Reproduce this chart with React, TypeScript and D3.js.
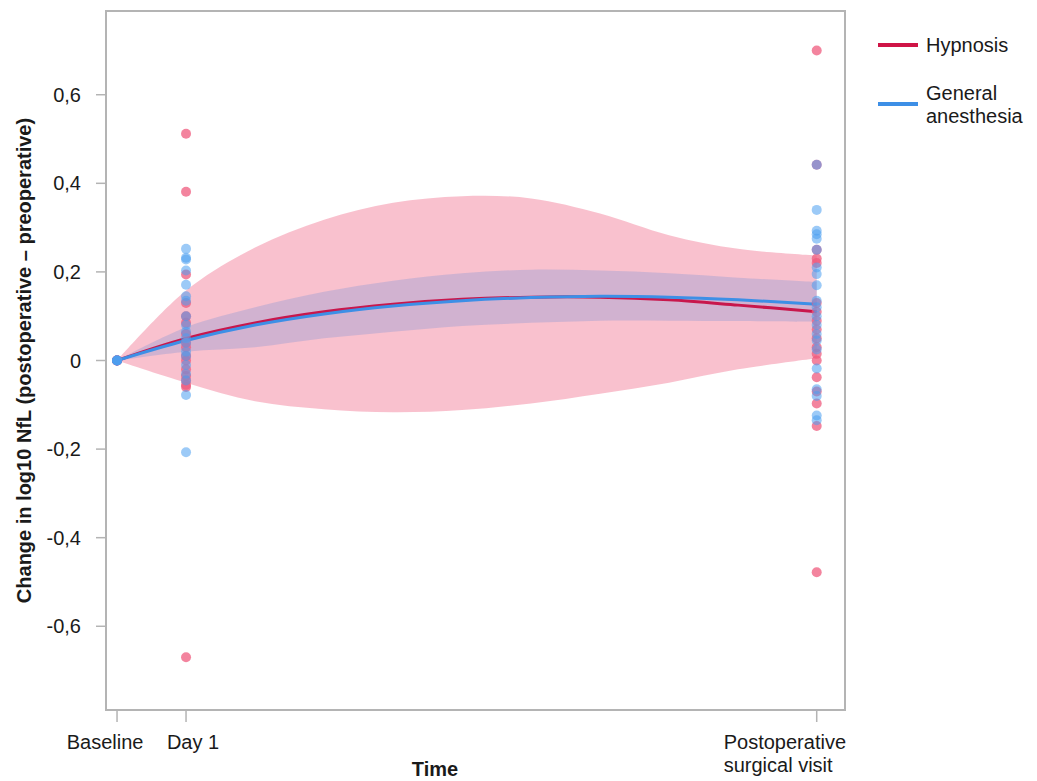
import { useEffect, useRef } from "react";
import * as d3 from "d3";

// time positions (days) of the three visits
const visits = [
  { label: ["Baseline"], t: 0 },
  { label: ["Day 1"], t: 1 },
  { label: ["Postoperative", "surgical visit"], t: 10.14 },
];

// times where the fitted curves and bands were read
const curveT = [0, 1, 2, 3, 4, 5, 6, 7, 8, 9, 10.14];
const hypFit = [0, 0.05, 0.085, 0.11, 0.127, 0.138, 0.143, 0.143, 0.137, 0.125, 0.11];
const hypLo = [0, -0.05, -0.092, -0.11, -0.117, -0.112, -0.097, -0.075, -0.05, -0.02, 0.005];
const hypHi = [0, 0.158, 0.255, 0.318, 0.356, 0.371, 0.366, 0.332, 0.283, 0.252, 0.237];
const gaFit = [0, 0.045, 0.08, 0.105, 0.123, 0.135, 0.142, 0.145, 0.143, 0.137, 0.127];
const gaLo = [0, 0.02, 0.03, 0.05, 0.065, 0.078, 0.085, 0.09, 0.09, 0.089, 0.087];
const gaHi = [0, 0.075, 0.12, 0.155, 0.18, 0.197, 0.205, 0.203, 0.197, 0.187, 0.177];

// individual patient changes
const hypBaseline = [0, 0, 0, 0, 0];
const hypDay1 = [0.512, 0.381, 0.194, 0.13, 0.1, 0.085, 0.06, 0.04, 0.03, 0.01, 0, -0.02, -0.035, -0.045, -0.055, -0.06, -0.67];
const hypPost = [0.7, 0.442, 0.25, 0.23, 0.22, 0.13, 0.11, 0.09, 0.07, 0.05, 0.03, 0.015, 0, -0.038, -0.07, -0.097, -0.148, -0.478];
const gaBaseline = [0, 0, 0, 0, 0];
const gaDay1 = [0.252, 0.232, 0.228, 0.203, 0.171, 0.145, 0.135, 0.1, 0.08, 0.065, 0.05, 0.04, 0.02, 0.01, -0.01, -0.03, -0.045, -0.078, -0.207];
const gaPost = [0.442, 0.34, 0.293, 0.285, 0.275, 0.25, 0.21, 0.195, 0.17, 0.135, 0.12, 0.1, 0.08, 0.06, 0.045, 0.025, -0.018, -0.065, -0.08, -0.124, -0.135];

const yTicks = [-0.6, -0.4, -0.2, 0, 0.2, 0.4, 0.6];
const legendItems = [
  { name: ["Hypnosis"], color: "#cf1446" },
  { name: ["General", "anesthesia"], color: "#3d8fe6" },
];

const App = () => {
  const svgRef = useRef<SVGSVGElement>(null);

  useEffect(() => {
    const svg = d3.select(svgRef.current);
    svg.selectAll("*").remove();
    const font = "'Liberation Sans', Arial, Helvetica, sans-serif";

    const left = 106, right = 845, top = 11, bottom = 710;
    const x = d3.scaleLinear().domain([-0.16, 10.55]).range([left, right]);
    const y = d3.scaleLinear().domain([-0.789, 0.789]).range([bottom, top]);

    const band = (lo: number[], hi: number[]) =>
      d3
        .area<number>()
        .x((t) => x(t))
        .y0((_, i) => y(lo[i]))
        .y1((_, i) => y(hi[i]))
        .curve(d3.curveCatmullRom.alpha(0.5))(curveT);
    const line = (v: number[]) =>
      d3
        .line<number>()
        .x((t) => x(t))
        .y((_, i) => y(v[i]))
        .curve(d3.curveCatmullRom.alpha(0.5))(curveT);

    svg.append("path").attr("d", band(hypLo, hypHi)).attr("fill", "#f7a6b9").attr("opacity", 0.7);
    svg.append("path").attr("d", band(gaLo, gaHi)).attr("fill", "#5a86d8").attr("opacity", 0.25);

    svg.append("path").attr("d", line(hypFit)).attr("fill", "none").attr("stroke", "#c8174c").attr("stroke-width", 3);
    svg.append("path").attr("d", line(gaFit)).attr("fill", "none").attr("stroke", "#3d8fe6").attr("stroke-width", 3);

    const pts = (vals: number[][], color: string, op: number) => {
      vals.forEach((arr, k) => {
        svg
          .append("g")
          .selectAll("circle")
          .data(arr)
          .enter()
          .append("circle")
          .attr("cx", x(visits[k].t))
          .attr("cy", (d) => y(d))
          .attr("r", 5)
          .attr("fill", color)
          .attr("opacity", op);
      });
    };
    pts([hypBaseline, hypDay1, hypPost], "#ef5b7d", 0.75);
    pts([gaBaseline, gaDay1, gaPost], "#4a9ff0", 0.55);

    // frame
    svg
      .append("rect")
      .attr("x", left)
      .attr("y", top)
      .attr("width", right - left)
      .attr("height", bottom - top)
      .attr("fill", "none")
      .attr("stroke", "#b4b4b4")
      .attr("stroke-width", 2);

    // y axis
    const yAxis = svg.append("g");
    yTicks.forEach((v) => {
      yAxis
        .append("line")
        .attr("x1", left - 10)
        .attr("x2", left)
        .attr("y1", y(v))
        .attr("y2", y(v))
        .attr("stroke", "#b4b4b4")
        .attr("stroke-width", 1.5);
      yAxis
        .append("text")
        .attr("x", left - 25)
        .attr("y", y(v))
        .attr("dy", "0.35em")
        .attr("text-anchor", "end")
        .style("font-family", font)
        .style("font-size", "20px")
        .attr("fill", "#1a1a1a")
        .text(v === 0 ? "0" : d3.format(".1f")(v).replace("−", "-").replace(".", ","));
    });
    svg
      .append("text")
      .attr("transform", `translate(31,${(top + bottom) / 2}) rotate(-90)`)
      .attr("text-anchor", "middle")
      .style("font-family", font)
      .style("font-size", "20px")
      .style("font-weight", "bold")
      .attr("fill", "#1a1a1a")
      .text("Change in log10 NfL (postoperative \u2013 preoperative)");

    // x axis
    const labelDx = [-12, 7, -93];
    const labelAnchor = ["middle", "middle", "start"];
    visits.forEach((v, k) => {
      svg
        .append("line")
        .attr("x1", x(v.t))
        .attr("x2", x(v.t))
        .attr("y1", bottom)
        .attr("y2", bottom + 12)
        .attr("stroke", "#b4b4b4")
        .attr("stroke-width", 1.5);
      v.label.forEach((s, j) => {
        svg
          .append("text")
          .attr("x", x(v.t) + labelDx[k])
          .attr("y", bottom + 39 + j * 23)
          .attr("text-anchor", labelAnchor[k])
          .style("font-family", font)
          .style("font-size", "20px")
          .attr("fill", "#1a1a1a")
          .text(s);
      });
    });
    svg
      .append("text")
      .attr("x", 435)
      .attr("y", 776)
      .attr("text-anchor", "middle")
      .style("font-family", font)
      .style("font-size", "20px")
      .style("font-weight", "bold")
      .attr("fill", "#1a1a1a")
      .text("Time");

    // legend
    const legendY = [45, 104];
    legendItems.forEach((it, i) => {
      svg
        .append("line")
        .attr("x1", 878)
        .attr("x2", 918)
        .attr("y1", legendY[i])
        .attr("y2", legendY[i])
        .attr("stroke", it.color)
        .attr("stroke-width", 4);
      const n = it.name.length;
      it.name.forEach((s, j) => {
        svg
          .append("text")
          .attr("x", 926)
          .attr("y", legendY[i] + (j - (n - 1) / 2) * 23)
          .attr("dy", "0.35em")
          .style("font-family", font)
          .style("font-size", "20px")
          .attr("fill", "#1a1a1a")
          .text(s);
      });
    });
  }, []);

  return (
    <div style={{ position: "absolute", left: 0, top: 0 }}>
      <svg ref={svgRef} width={1037} height={781} style={{ display: "block", background: "#fff" }}></svg>
    </div>
  );
};

export default App;
